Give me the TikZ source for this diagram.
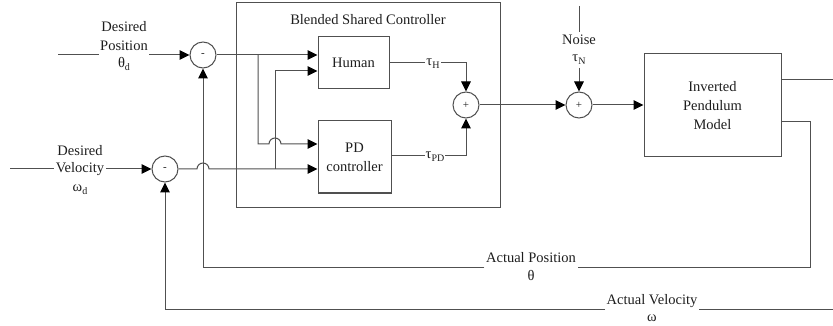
\documentclass[tikz,border=0pt]{standalone}
\usepackage{fontspec}
\setmainfont{Liberation Serif}
\usetikzlibrary{arrows.meta}
\definecolor{linegray}{RGB}{80,80,80}
\definecolor{inkgray}{RGB}{30,30,30}
% lowered small subscript in text font
\newcommand\lowsub[1]{\raisebox{-0.45ex}{\fontsize{10}{10}\selectfont #1}}
\begin{document}
\begin{tikzpicture}[x=1pt,y=-1pt,
  font=\fontsize{14.5}{19}\selectfont, text=inkgray,
  wire/.style={draw=linegray, line width=1pt},
  arr/.style={wire, -{Triangle[length=10pt,width=9.5pt,color=black]}},
  blockbox/.style={draw=linegray, line width=1pt, align=center, inner sep=0pt},
  sumnode/.style={circle, draw=linegray, line width=1pt, minimum size=26pt,
                  inner sep=0pt, font=\fontsize{11}{11}\selectfont},
  lbl/.style={inner sep=0pt, inner xsep=1.5pt, align=center},
  sublbl/.style={inner sep=1pt, fill=white}]
\useasboundingbox (0,0) rectangle (833,326);

% blocks
\node[blockbox, minimum width=264pt, minimum height=204pt] (bsc) at (368,105) {};
\node[lbl] (bsctitle) at (368,20) {Blended Shared Controller};
\node[blockbox, minimum width=71pt, minimum height=52pt] (hum) at (353.5,63) {Human};
\node[blockbox, minimum width=73pt, minimum height=72pt] (pd) at (354.5,157) {PD\\controller};
\node[blockbox, minimum width=137pt, minimum height=103pt] (ipm) at (712.5,105.5) {Inverted\\Pendulum\\Model};

% summing junctions
\node[sumnode] (s1) at (203,55) {-};
\node[sumnode] (s2) at (165,169) {-};
\node[sumnode] (s3) at (466,105) {+};
\node[sumnode] (s4) at (579,105) {+};

% input labels
\node[lbl] (dposA) at (124,27) {Desired};
\node[lbl] (dpos) at (124,46) {Position};
\node[lbl] (thd) at (124,64) {θ\lowsub{d}};
\node[lbl] (dvelA) at (80,151) {Desired};
\node[lbl] (dvel) at (80,169) {Velocity};
\node[lbl] (omd) at (80,190) {ω\lowsub{d}};

% feedback labels
\node[lbl] (ap) at (531,258) {Actual Position};
\node[lbl] (th) at (531,276) {θ};
\node[lbl] (av) at (652,301) {Actual Velocity};
\node[lbl] (om) at (652,318) {ω};

% noise labels
\node[lbl] (noise) at (579,40) {Noise};
\node[lbl] (tauN) at (579,60) {τ\lowsub{N}};

% free ends
\coordinate (pin) at (58,55);
\coordinate (vin) at (10,169);
\coordinate (ntop) at (579,6);
\coordinate (nbot) at (579,32);
\coordinate (narr) at (579,68);
\coordinate (out1) at (833,80);
\coordinate (velsrc) at (833,309);

% desired position path
\draw[wire] (pin) -- (dpos.west |- pin);
\draw[arr] (dpos.east |- pin) -- (s1.west);

% desired velocity path
\draw[wire] (vin) -- (dvel.west);
\draw[arr] (dvel.east) -- (s2.west);

% position error to both controllers
\draw[arr] (s1.east) -- (hum.west |- s1.east);
\draw[arr] (258,55) -- (258,144) -- (269,144) arc (180:360:6) -- (pd.west |- 0,144);

% velocity error to both controllers
\draw[arr] (s2.east) -- (197,169) arc (180:360:6) -- (pd.west |- s2.east);
\draw[arr] (275,169) -- (275,71) -- (hum.west |- 0,71);

% controller outputs into the blend
\draw[arr] (hum.east) -- (s3.north |- hum.east) -- (s3.north);
\draw[arr] (pd.east |- 0,156) -- (s3.south |- 0,156) -- (s3.south);
\node[sublbl] (tauH) at (433,64) {τ\lowsub{H}};
\node[sublbl] (tauPD) at (435,157) {τ\lowsub{PD}};

% blend, noise, plant
\draw[arr] (s3.east) -- (s4.west);
\draw[wire] (ntop) -- (nbot);
\draw[arr] (narr) -- (s4.north);
\draw[arr] (s4.east) -- (ipm.west |- s4.east);
\draw[wire] (ipm.east |- out1) -- (out1);

% position feedback
\draw[wire] (ipm.east |- 0,122) -- (810,122) -- (810,267) -- (ap.east |- 0,267);
\draw[arr] (ap.west |- 0,267) -- (s1.south |- 0,267) -- (s1.south);

% velocity feedback
\draw[wire] (velsrc) -- (av.east |- velsrc);
\draw[arr] (av.west |- velsrc) -- (s2.south |- velsrc) -- (s2.south);
\end{tikzpicture}
\end{document}
